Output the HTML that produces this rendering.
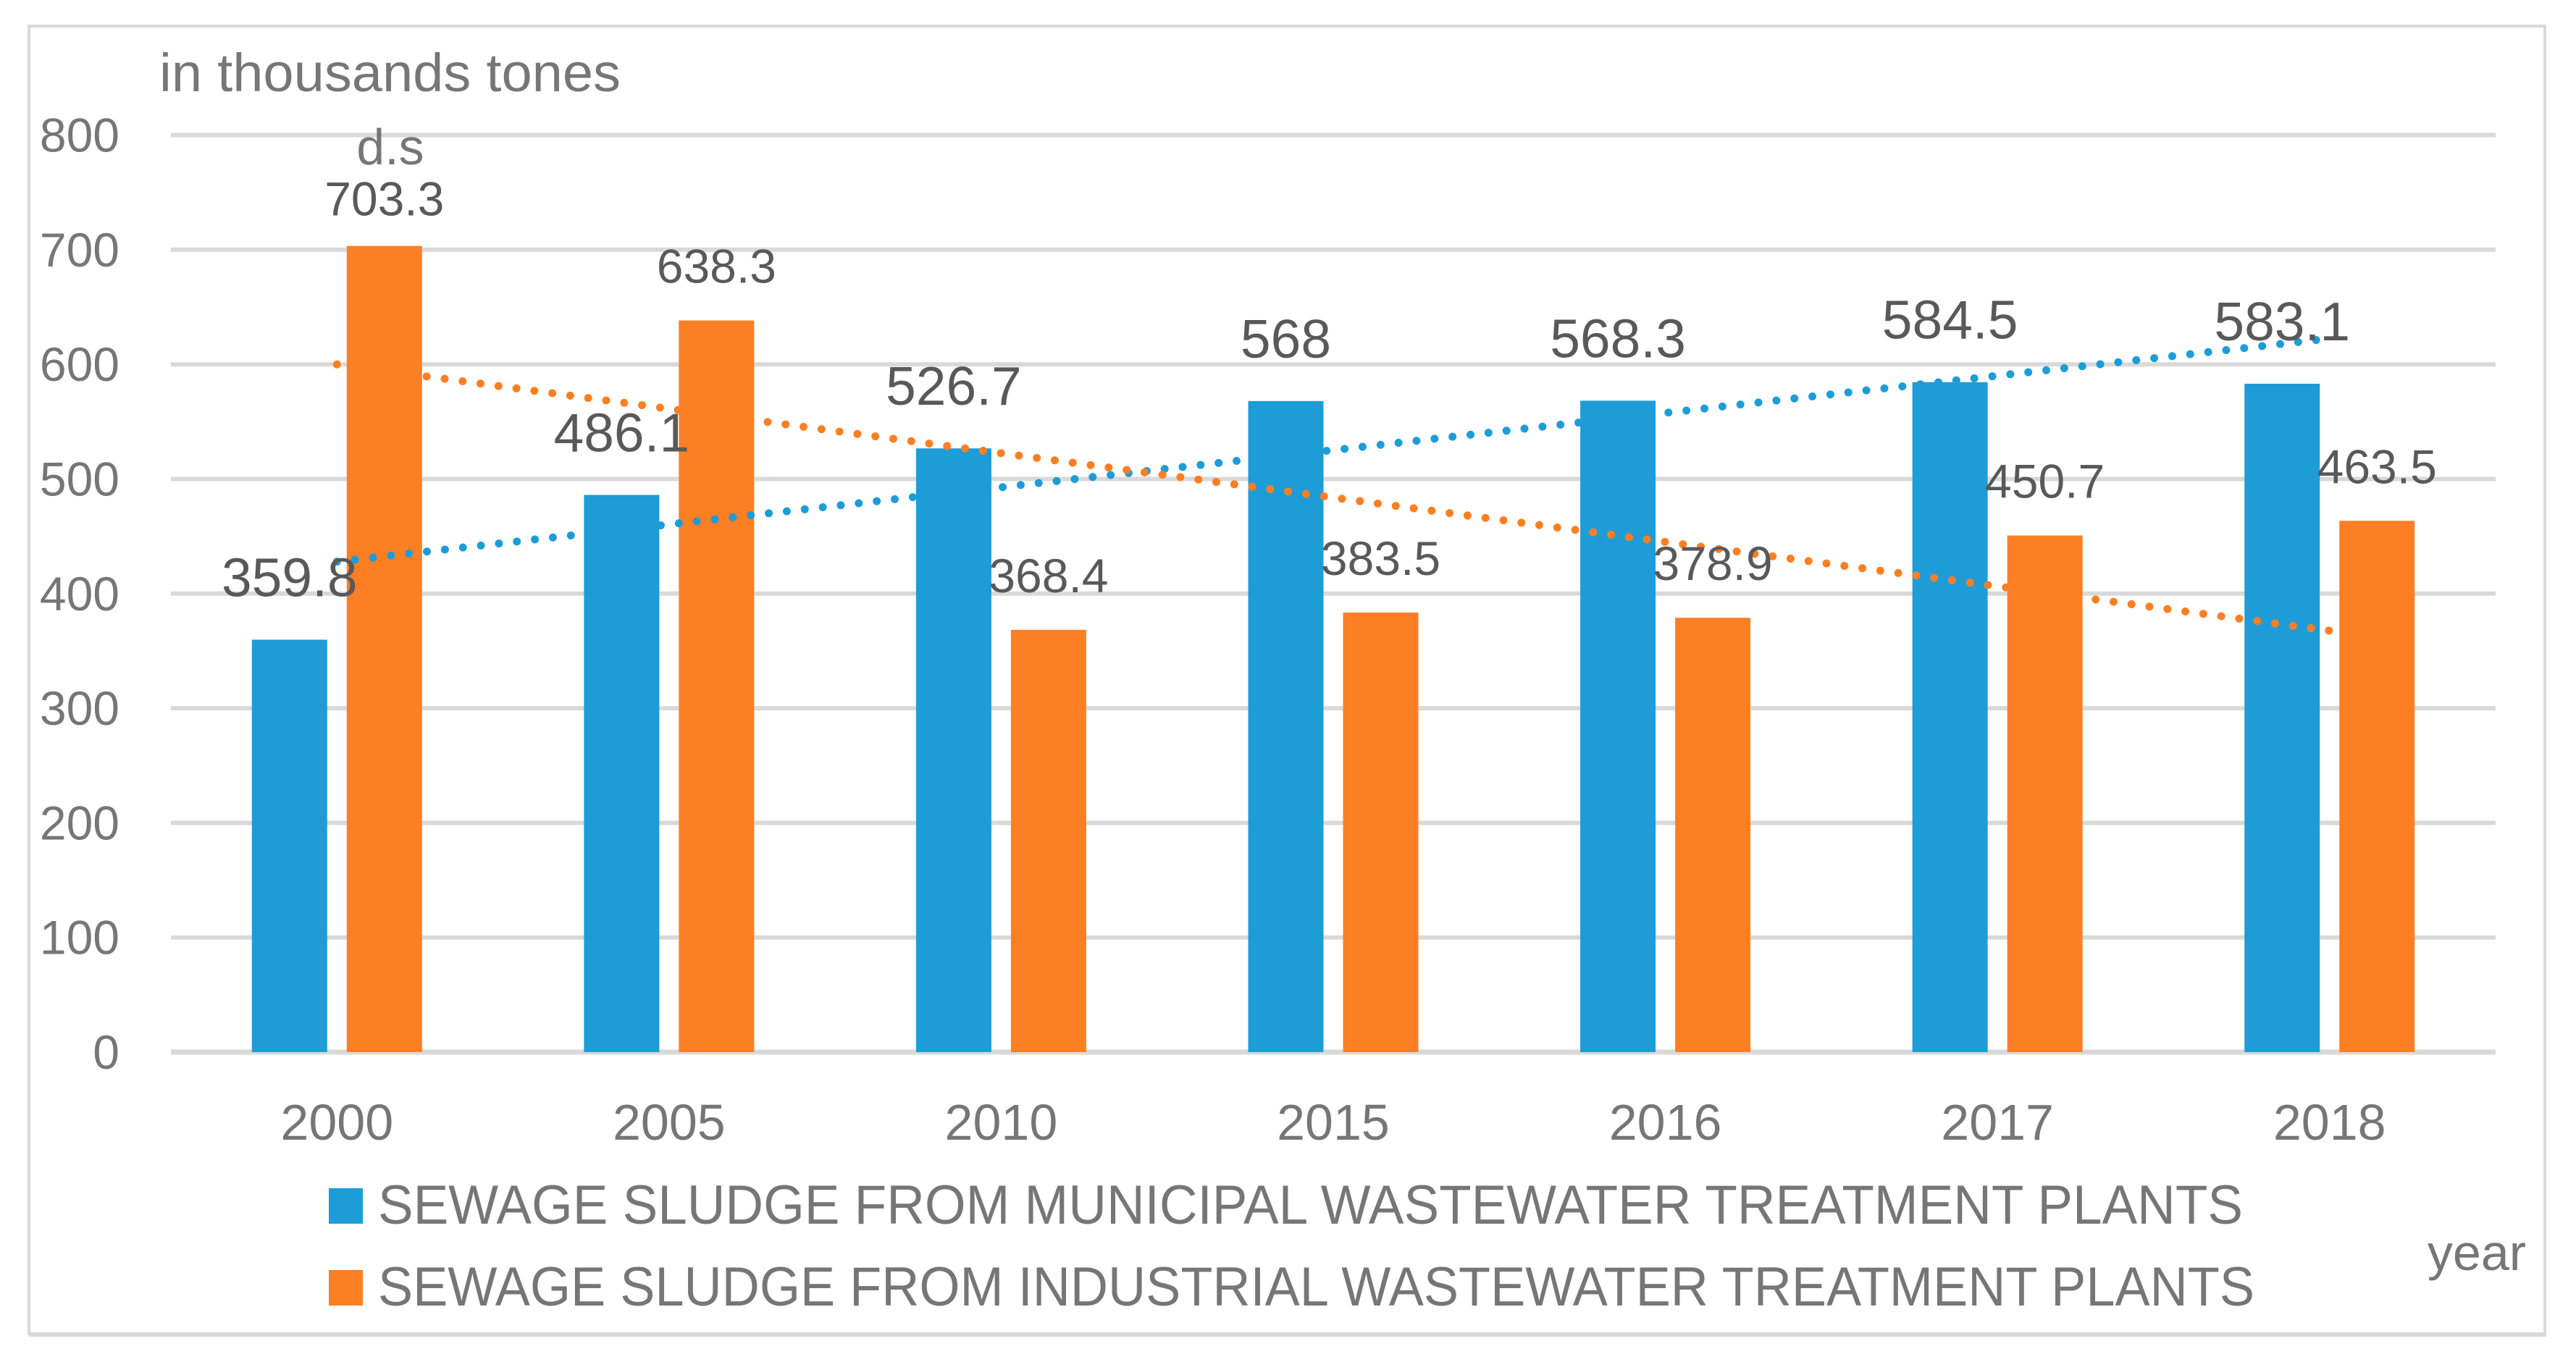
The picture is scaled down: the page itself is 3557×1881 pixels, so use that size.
<!DOCTYPE html>
<html><head><meta charset="utf-8"><style>
html,body{margin:0;padding:0;background:#fff;}
svg{display:block;font-family:"Liberation Sans",sans-serif;}
</style></head><body>
<svg id="chart" width="3557" height="1881" viewBox="0 0 3557 1881" xmlns="http://www.w3.org/2000/svg">
<rect x="40" y="36" width="3474" height="1806" fill="#fff" stroke="#d9d9d9" stroke-width="4"/>
<line x1="40" y1="1843" x2="3516" y2="1843" stroke="#d9d9d9" stroke-width="6"/>
<g id="grid"></g>
<g id="bars"></g>
<g id="trends"></g>
<g id="labels"></g>
<text x="220" y="126" font-size="74" fill="#767676" textLength="637" lengthAdjust="spacingAndGlyphs">in thousands tones</text>
<text x="539" y="227" font-size="70" fill="#767676" text-anchor="middle">d.s</text>
<text x="3420" y="1754" font-size="70" fill="#767676" text-anchor="middle">year</text>
<g>
<rect x="454" y="1641" width="47" height="49" fill="#1e9cd8"/>
<text x="522" y="1690" font-size="76" fill="#767676" textLength="2575" lengthAdjust="spacingAndGlyphs">SEWAGE SLUDGE FROM MUNICIPAL WASTEWATER TREATMENT PLANTS</text>
<rect x="454" y="1754" width="47" height="49" fill="#fd7f23"/>
<text x="522" y="1803" font-size="76" fill="#767676" textLength="2591" lengthAdjust="spacingAndGlyphs">SEWAGE SLUDGE FROM INDUSTRIAL WASTEWATER TREATMENT PLANTS</text>
</g>
</svg>
<script>
const categories = ["2000","2005","2010","2015","2016","2017","2018"];
const municipal = [359.8,486.1,526.7,568,568.3,584.5,583.1];
const industrial = [703.3,638.3,368.4,383.5,378.9,450.7,463.5];
const yTicks = [0,100,200,300,400,500,600,700,800];
const municipalLabels = ["359.8","486.1","526.7","568","568.3","584.5","583.1"];
const industrialLabels = ["703.3","638.3","368.4","383.5","378.9","450.7","463.5"];

const NS="http://www.w3.org/2000/svg";
const plotL=236, plotR=3446, y0=1453, pxPer=1.583;
const band=(plotR-plotL)/categories.length;
const yScale=v=>y0-v*pxPer;
const xCenter=i=>plotL+band*(i+0.5);
function mk(tag,attrs,parent){const e=document.createElementNS(NS,tag);for(const k in attrs)e.setAttribute(k,attrs[k]);parent.appendChild(e);return e;}
const grid=document.getElementById('grid'),bars=document.getElementById('bars'),trends=document.getElementById('trends'),labels=document.getElementById('labels');

yTicks.forEach(t=>{
  const l=mk('line',{x1:plotL,x2:plotR,y1:yScale(t),y2:yScale(t),stroke:'#d9d9d9','stroke-width':t===0?7:6},grid);
  
  
  const tx=mk('text',{x:165,y:yScale(t)+23,'font-size':66,fill:'#767676','text-anchor':'end'},grid);
  tx.textContent=t;
  
  
});

const bw=104, gap=27;
categories.forEach((c,i)=>{
  const cx=xCenter(i);
  const bx=cx-gap/2-bw, ox=cx+gap/2;
  const b=mk('rect',{x:bx,y:yScale(municipal[i]),width:bw,height:municipal[i]*pxPer,fill:'#1e9cd8'},bars);
  
  
  const o=mk('rect',{x:ox,y:yScale(industrial[i]),width:bw,height:industrial[i]*pxPer,fill:'#fd7f23'},bars);
  
  
  const xl=mk('text',{x:cx,y:1574,'font-size':70,fill:'#767676','text-anchor':'middle'},labels);
  xl.textContent=c;
  
  
  const ml=mk('text',{x:bx+bw/2,y:yScale(municipal[i])-60,'font-size':75,fill:'#595959','text-anchor':'middle'},labels);
  ml.textContent=municipalLabels[i];
  
  
  const il=mk('text',{x:ox+bw/2,y:yScale(industrial[i])-(i===0?42:52),'font-size':66,fill:'#595959','text-anchor':'middle'},labels);
  il.textContent=industrialLabels[i];
  
  
});

function fit(arr){const n=arr.length;const mx=(n-1)/2;const my=arr.reduce((a,b)=>a+b,0)/n;let num=0,den=0;arr.forEach((y,i)=>{num+=(i-mx)*(y-my);den+=(i-mx)*(i-mx);});const s=num/den;return [my-s*mx,my+s*(n-1-mx)];}
[[municipal,'#1e9cd8','trendline-municipal'],[industrial,'#fd7f23','trendline-industrial']].forEach(([arr,col,name])=>{
  const [a,b]=fit(arr);
  const l=mk('line',{x1:xCenter(0),y1:yScale(a),x2:xCenter(arr.length-1),y2:yScale(b),stroke:col,'stroke-width':11,'stroke-linecap':'round','stroke-dasharray':'0 25'},trends);
  
  
});
</script>
</body></html>
